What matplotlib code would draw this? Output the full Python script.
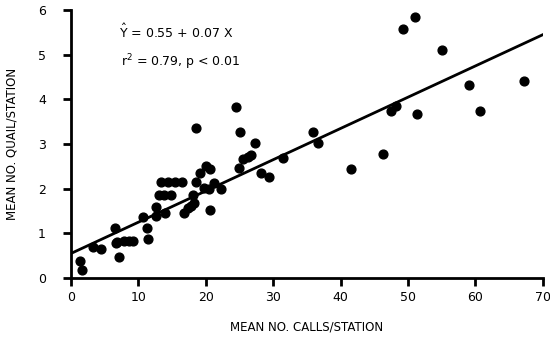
import numpy as np
import matplotlib
matplotlib.use('Agg')
from matplotlib import pyplot as plt

# mean number of calls per station (x) and mean number of quail per station (y)
calls = [1.3, 1.7, 3.2, 4.5, 6.5, 6.7, 7.1, 6.9, 7.9, 8.6, 9.2,
         10.7, 11.3, 11.5, 12.6, 12.6, 13.9, 13.0, 13.8, 14.8,
         13.4, 14.4, 15.4, 16.4, 16.7, 17.3, 17.8, 18.3, 18.1, 18.6,
         18.6, 19.2, 20.0, 20.7, 19.8, 20.5, 21.2, 20.6, 22.2,
         24.5, 25.1, 25.0, 25.5, 26.2, 26.7, 27.3, 28.2, 29.4, 31.4,
         35.9, 36.6, 41.6, 46.3, 47.5, 48.2, 49.3, 51.0, 51.3, 55.1,
         59.1, 60.7, 67.2]
quail = [0.38, 0.19, 0.70, 0.64, 1.13, 0.78, 0.46, 0.80, 0.82, 0.82, 0.84,
         1.37, 1.11, 0.87, 1.58, 1.39, 1.45, 1.86, 1.86, 1.86,
         2.14, 2.14, 2.14, 2.16, 1.45, 1.56, 1.61, 1.67, 1.86, 3.37,
         2.16, 2.35, 2.52, 2.44, 2.01, 1.99, 2.12, 1.52, 1.99,
         3.84, 3.26, 2.46, 2.66, 2.72, 2.76, 3.03, 2.35, 2.27, 2.68,
         3.26, 3.03, 2.44, 2.77, 3.75, 3.86, 5.58, 5.85, 3.68, 5.10,
         4.33, 3.75, 4.42]

intercept = 0.55
slope = 0.07

fig = plt.figure(figsize=(5.5, 3.37), dpi=100)
ax = fig.add_axes([0.129, 0.175, 0.858, 0.795])

ax.scatter(calls, quail, s=40, color='black', zorder=3)
xf = np.array([0, 70])
ax.plot(xf, intercept + slope * xf, color='black', lw=2)

ax.set_xlim(0, 70)
ax.set_ylim(0, 6)
ax.set_xticks(range(0, 71, 10))
ax.set_yticks(range(0, 7))
for s in ['top', 'right']:
    ax.spines[s].set_visible(False)
for s in ['left', 'bottom']:
    ax.spines[s].set_linewidth(2)
ax.tick_params(direction='out', length=6, width=2, labelsize=9)
ax.tick_params(axis='y', pad=12)
ax.set_xlabel('MEAN NO. CALLS/STATION', fontsize=8.5, labelpad=12)
ax.set_ylabel('MEAN NO. QUAIL/STATION', fontsize=8.5, labelpad=14)

ax.text(7.2, 5.5, r'$\hat{\mathrm{Y}}$ = 0.55 + 0.07 X', fontsize=9, va='center')
ax.text(7.4, 4.83, r'r$^{2}$ = 0.79, p < 0.01', fontsize=9, va='center')

plt.savefig('out.png')
